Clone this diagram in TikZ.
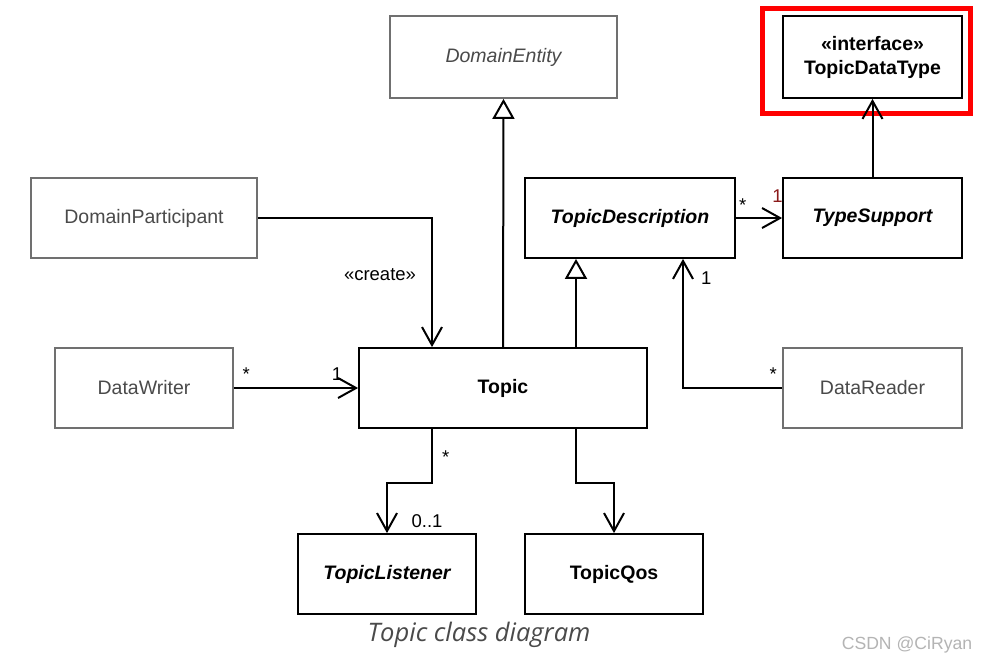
\documentclass[tikz,border=0pt]{standalone}
\usepackage{fontspec}
\setmainfont{Liberation Sans}
\newfontfamily\capfont{Open Sans}
\usetikzlibrary{arrows.meta}
\definecolor{boxgray}{HTML}{707070}
\definecolor{txtgray}{HTML}{4A4A4A}
\definecolor{capgray}{HTML}{4A4A4A}
\definecolor{markgray}{HTML}{B4B4B4}
\definecolor{onered}{HTML}{8B1A1A}
\tikzset{
  cls/.style={draw, line width=1.8pt, inner sep=0pt, minimum height=80pt, align=center,
    font=\fontsize{19.5}{24}\selectfont},
  grey/.style={cls, draw=boxgray, text=txtgray},
  strong/.style={cls, font=\fontsize{19.5}{24}\selectfont\bfseries},
  abstr/.style={cls, font=\fontsize{19.5}{24}\selectfont\bfseries\itshape},
  assoc/.style={line width=2pt, -{Straight Barb[length=18pt,width=20pt,line width=2pt]}},
  gen/.style={line width=2pt, -{Triangle[open,length=20pt,width=22pt,line width=2pt,fill=white]}},
  mult/.style={font=\fontsize{18.5}{22}\selectfont, inner sep=1pt}
}
\begin{document}
\begin{tikzpicture}[x=1pt,y=-1pt]
\path[fill=white,use as bounding box] (0,0) rectangle (988,665);

\node[grey, minimum width=227pt, minimum height=82pt, font=\fontsize{19.5}{24}\selectfont\itshape] (entity) at (503.5,57) {DomainEntity};
\node[strong, minimum width=179pt, minimum height=82pt] (dtype) at (872.5,57) {«interface»\\TopicDataType};
\node[grey, minimum width=226pt] (part) at (144,218) {DomainParticipant};
\node[abstr, minimum width=210pt] (desc) at (630,218) {TopicDescription};
\node[abstr, minimum width=179pt] (support) at (872.5,218) {TypeSupport};
\node[grey, minimum width=178pt] (writer) at (144,388) {DataWriter};
\node[strong, minimum width=288pt] (topic) at (503,388) {Topic};
\node[grey, minimum width=179pt] (reader) at (872.5,388) {DataReader};
\node[abstr, minimum width=178pt] (listener) at (387,574) {TopicListener};
\node[strong, minimum width=178pt] (qos) at (614,574) {TopicQos};

\draw[red, line width=5pt] (762.5,8.5) rectangle (970.5,113.5);

\draw[gen] (topic.north) -- (entity.south);
\draw[gen] ([xshift=73pt]topic.north) -- ([xshift=73pt]topic.north |- desc.south);
\draw[assoc] (part.east) -| node[mult, pos=.72, left=14pt] {«create»} ([xshift=-71pt]topic.north);
\draw[assoc] (writer.east) -- node[mult, pos=.1, above=6pt] {*} node[mult, pos=.83, above=6pt] {1} (topic.west);
\draw[assoc] (desc.east) -- node[mult, pos=.15, above=5pt] {*} node[mult, pos=.9, above=14pt, text=onered] {1} (support.west);
\draw[assoc] (support.north) -- (dtype.south);
\draw[assoc] (reader.west) -| node[mult, pos=.045, above=6pt] {*} node[mult, pos=.927, right=16pt] {1} ([xshift=53pt]desc.south);
\draw[assoc] ([xshift=-71pt]topic.south) -- node[mult, pos=.52, right=8pt] {*} ++(0,54) -| (listener.north);
\draw[assoc] ([xshift=73pt]topic.south) -- ++(0,54) -| (qos.north);
\node[mult] (lone) at ([shift={(40,-12)}]listener.north) {0..1};

\node[font=\capfont\fontsize{25.5}{28}\selectfont\itshape, text=capgray] (caption) at (479,635) {Topic class diagram};
\node[font=\fontsize{17.6}{20}\selectfont, text=markgray] (mark) at (907,645) {CSDN @CiRyan};
\end{tikzpicture}
\end{document}
